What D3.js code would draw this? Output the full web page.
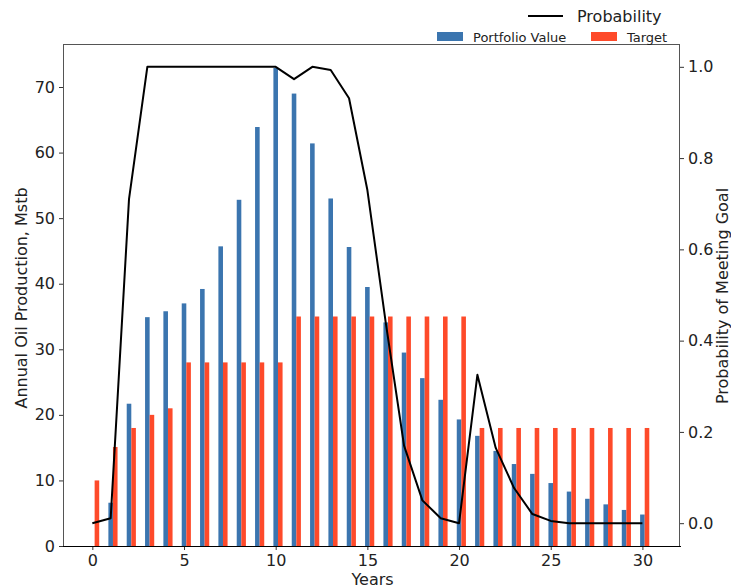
<!DOCTYPE html>
<meta charset="utf-8">
<title>Portfolio Value vs Target</title>
<style>
    body { margin: 0; background: #fff; }
    text { font-family: "DejaVu Sans", sans-serif; fill: #222; }
    .tick text { font-size: 16px; }
    .tick line { stroke: #333; }
</style>
<svg width="731" height="588"></svg>
<script src="https://d3js.org/d3.v7.min.js"></script>
<script>

// chart data
var years = d3.range(0, 31);
var portfolio = [0, 6.6, 21.7, 34.9, 35.8, 37.0, 39.2, 45.7, 52.8, 63.9, 72.9,
                 69.0, 61.4, 53.0, 45.6, 39.5, 34.1, 29.5, 25.6, 22.3, 19.3,
                 16.8, 14.5, 12.5, 11.0, 9.6, 8.3, 7.2, 6.35, 5.5, 4.8];
var target = [10, 15.1, 18, 20, 21, 28, 28, 28, 28, 28, 28,
              35, 35, 35, 35, 35, 35, 35, 35, 35, 35,
              18, 18, 18, 18, 18, 18, 18, 18, 18, 18];
var probability = [0.0, 0.011, 0.71, 1.0, 1.0, 1.0, 1.0, 1.0, 1.0, 1.0, 1.0,
                   0.973, 1.0, 0.993, 0.931, 0.73, 0.44, 0.17, 0.05, 0.011, 0.0,
                   0.325, 0.165, 0.077, 0.02, 0.005, 0, 0, 0, 0, 0];
var leftTicks = [0, 10, 20, 30, 40, 50, 60, 70];
var rightTicks = [0, 0.2, 0.4, 0.6, 0.8, 1.0];
var xTicks = [0, 5, 10, 15, 20, 25, 30];

var svg = d3.select("svg"),
    pLeft = 63, pRight = 680, pTop = 44, pBottom = 546,
    barW = 0.25;

var x = d3.scaleLinear().domain([-1.6, 32.05]).range([pLeft, pRight]);
var y = d3.scaleLinear().domain([0, 76.56]).range([pBottom, pTop]);
var y2 = d3.scaleLinear().domain([-0.05, 1.05]).range([pBottom, pTop]);

var blue = "#3b75af", red = "#fe4a2a";

// bars
svg.append("g").selectAll("rect")
    .data(years)
    .enter().append("rect")
        .attr("x", function(d) { return x(d - barW / 2); })
        .attr("width", function(d) { return x(d + barW / 2) - x(d - barW / 2); })
        .attr("y", function(d) { return y(portfolio[d]); })
        .attr("height", function(d) { return y(0) - y(portfolio[d]); })
        .attr("fill", blue);

svg.append("g").selectAll("rect")
    .data(years)
    .enter().append("rect")
        .attr("x", function(d) { return x(d + barW / 2); })
        .attr("width", function(d) { return x(d + 1.5 * barW) - x(d + barW / 2); })
        .attr("y", function(d) { return y(target[d]); })
        .attr("height", function(d) { return y(0) - y(target[d]); })
        .attr("fill", red);

// probability line
var line = d3.line()
    .x(function(d) { return x(d); })
    .y(function(d) { return y2(probability[d]); });

svg.append("path")
    .datum(years)
    .attr("d", line)
    .attr("fill", "none")
    .attr("stroke", "#000")
    .attr("stroke-width", 2)
    .attr("stroke-linejoin", "round");

// axes
var xAxis = svg.append("g")
    .attr("transform", "translate(0," + pBottom + ")")
    .call(d3.axisBottom(x).tickValues(xTicks).tickSize(4).tickPadding(5));
var yAxis = svg.append("g")
    .attr("transform", "translate(" + pLeft + ",0)")
    .call(d3.axisLeft(y).tickValues(leftTicks).tickSize(4).tickPadding(4));
var y2Axis = svg.append("g")
    .attr("transform", "translate(" + pRight + ",0)")
    .call(d3.axisRight(y2).tickValues(rightTicks).tickFormat(d3.format(".1f")).tickSize(4).tickPadding(4));
[xAxis, yAxis, y2Axis].forEach(function(a) {
    a.select(".domain").remove();
    a.selectAll(".tick text").attr("fill", "#222");
});

// frame
svg.append("rect")
    .attr("x", pLeft + 0.5).attr("y", pTop + 0.5)
    .attr("width", pRight - pLeft - 1).attr("height", pBottom - pTop)
    .attr("fill", "none").attr("stroke", "#555");
svg.append("line")
    .attr("x1", pLeft).attr("x2", pRight + 1)
    .attr("y1", pBottom + 0.5).attr("y2", pBottom + 0.5)
    .attr("stroke", "#000");

// axis labels
svg.append("text")
    .attr("transform", "translate(27,298) rotate(-90)")
    .attr("text-anchor", "middle")
    .style("font-size", "16px")
    .text("Annual Oil Production, Mstb");
svg.append("text")
    .attr("transform", "translate(728,296) rotate(-90)")
    .attr("text-anchor", "middle")
    .style("font-size", "16px")
    .text("Probability of Meeting Goal");
svg.append("text")
    .attr("x", (pLeft + pRight) / 2 + 1).attr("y", 585)
    .attr("text-anchor", "middle")
    .style("font-size", "16px")
    .text("Years");

// legends
var leg = svg.append("g");
leg.append("line")
    .attr("x1", 528).attr("x2", 563).attr("y1", 16).attr("y2", 16)
    .attr("stroke", "#000").attr("stroke-width", 2);
leg.append("text")
    .attr("x", 577).attr("y", 22)
    .style("font-size", "16px")
    .text("Probability");

var items = [{name: "Portfolio Value", color: blue, x: 437},
             {name: "Target", color: red, x: 591}];
var it = leg.selectAll(".item")
    .data(items)
    .enter().append("g")
        .attr("class", "item");
it.append("rect")
    .attr("x", function(d) { return d.x; })
    .attr("y", 32).attr("width", 26).attr("height", 9)
    .attr("fill", function(d) { return d.color; });
it.append("text")
    .attr("x", function(d) { return d.x + 36; })
    .attr("y", 42)
    .style("font-size", "13px")
    .text(function(d) { return d.name; });

</script>
